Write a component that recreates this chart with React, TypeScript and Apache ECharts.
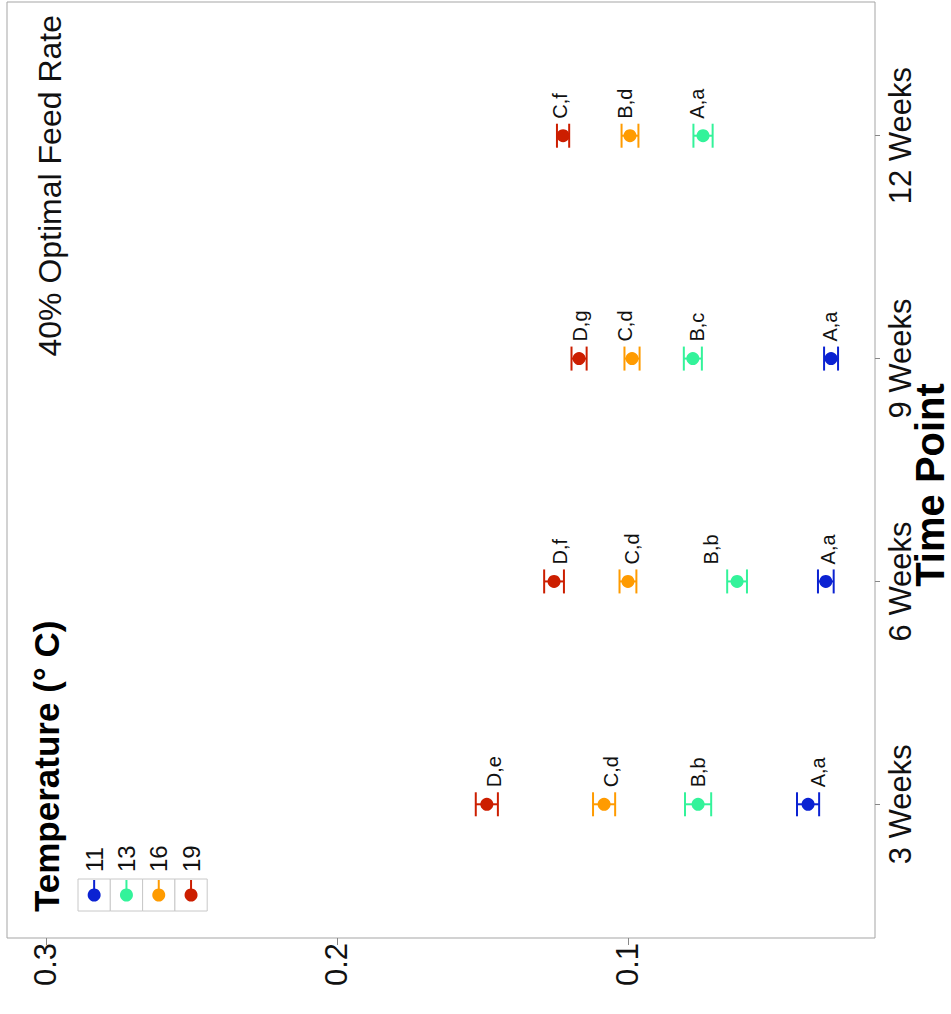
import React, { useEffect, useRef } from "react";
import * as echarts from "echarts";

const FONT = '"Liberation Sans", Arial, Helvetica, sans-serif';
const W = 951;
const H = 1014;

// Time points (category axis) and temperature groups
const weeks = ["3 Weeks", "6 Weeks", "9 Weeks", "12 Weeks"];
const temps = ["11", "13", "16", "19"];
const colors = ["#0B22D2", "#33F39A", "#FF9B00", "#CC1E00"];

// Value axis ticks
const valueTicks = [0.1, 0.2, 0.3];

// Group means per time point (null = not measured)
const mean11 = [0.0381, 0.032, 0.0302, null];
const mean13 = [0.0759, 0.0625, 0.0777, 0.0742];
const mean16 = [0.1082, 0.1, 0.0986, 0.0993];
const mean19 = [0.1485, 0.1254, 0.1168, 0.1223];

// Standard errors
const se11 = [0.0038, 0.0027, 0.0024, null];
const se13 = [0.0045, 0.0034, 0.0031, 0.0033];
const se16 = [0.0038, 0.0029, 0.0026, 0.0029];
const se19 = [0.0038, 0.0034, 0.0026, 0.0021];

// Significance letters and the value at which each is placed
const letters11 = ["A,a", "A,a", "A,a", null];
const letters13 = ["B,b", "B,b", "B,c", "A,a"];
const letters16 = ["C,d", "C,d", "C,d", "B,d"];
const letters19 = ["D,e", "D,f", "D,g", "C,f"];
const letterAt11 = [0.0347, 0.0313, 0.0306, null];
const letterAt13 = [0.0759, 0.0715, 0.0763, 0.0763];
const letterAt16 = [0.1058, 0.0986, 0.101, 0.101];
const letterAt19 = [0.146, 0.1234, 0.1165, 0.1234];

const groups = [
  { mean: mean11, se: se11, letters: letters11, at: letterAt11 },
  { mean: mean13, se: se13, letters: letters13, at: letterAt13 },
  { mean: mean16, se: se16, letters: letters16, at: letterAt16 },
  { mean: mean19, se: se19, letters: letters19, at: letterAt19 },
];

export default function App() {
  const ref = useRef<HTMLDivElement>(null);

  useEffect(() => {
    document.body.style.margin = "0";
    document.body.style.overflow = "hidden";
    const chart = echarts.init(ref.current!, null, { renderer: "svg", width: W, height: H });

    const series: any[] = [];
    groups.forEach((g, gi) => {
      const color = colors[gi];
      const rows = g.mean
        .map((m, wi) =>
          m == null ? null : { m, c: wi + 1, e: g.se[wi] as number, t: g.letters[wi] as string, at: g.at[wi] as number }
        )
        .filter(Boolean) as { m: number; c: number; e: number; t: string; at: number }[];

      // error bars
      series.push({
        type: "custom",
        name: temps[gi],
        z: 2,
        encode: { x: 0, y: 1 },
        data: rows.map((r) => [r.m, r.c, r.e]),
        renderItem: (_p: any, api: any) => {
          const v = api.value(0);
          const c = api.value(1);
          const e = api.value(2);
          const a = api.coord([v - e, c]);
          const b = api.coord([v + e, c]);
          const h = 12;
          const st = { stroke: color, lineWidth: 2 };
          return {
            type: "group",
            children: [
              { type: "line", shape: { x1: a[0], y1: a[1], x2: b[0], y2: b[1] }, style: st },
              { type: "line", shape: { x1: a[0], y1: a[1] - h, x2: a[0], y2: a[1] + h }, style: st },
              { type: "line", shape: { x1: b[0], y1: b[1] - h, x2: b[0], y2: b[1] + h }, style: st },
            ],
          };
        },
      });

      // means
      series.push({
        type: "scatter",
        name: temps[gi],
        z: 3,
        symbolSize: 13,
        itemStyle: { color, opacity: 1 },
        data: rows.map((r) => [r.m, r.c]),
      });

      // letters
      series.push({
        type: "custom",
        name: temps[gi] + "-letters",
        z: 4,
        encode: { x: 0, y: 1 },
        data: rows.map((r) => [r.at, r.c]),
        renderItem: (p: any, api: any) => {
          const pt = api.coord([api.value(0), api.value(1)]);
          return {
            type: "text",
            x: pt[0],
            y: pt[1] - 17,
            rotation: Math.PI / 2,
            style: {
              text: rows[p.dataIndex].t,
              fill: "#111",
              font: `20px ${FONT}`,
              align: "left",
              verticalAlign: "middle",
            },
          };
        },
      });
    });

    // legend keys drawn as a rotated ggplot-style legend
    const keyW = 32.3;
    const keyX0 = 78;
    const keyY = 879;
    const legendEls: any[] = [];
    temps.forEach((t, i) => {
      const x = keyX0 + i * keyW;
      legendEls.push({
        type: "rect",
        shape: { x, y: keyY, width: keyW, height: 32 },
        style: { fill: "#fff", stroke: "#C8C8C8", lineWidth: 1 },
      });
      legendEls.push({
        type: "line",
        shape: { x1: x + keyW / 2, y1: keyY + 1, x2: x + keyW / 2, y2: keyY + 16 },
        style: { stroke: colors[i], lineWidth: 2 },
      });
      legendEls.push({
        type: "circle",
        shape: { cx: x + keyW / 2, cy: keyY + 16, r: 6.5 },
        style: { fill: colors[i] },
      });
      legendEls.push({
        type: "text",
        x: x + keyW / 2,
        y: keyY - 7,
        rotation: Math.PI / 2,
        style: { text: t, fill: "#111", font: `24px ${FONT}`, align: "left", verticalAlign: "middle" },
      });
    });

    chart.setOption({
      animation: false,
      backgroundColor: "#fff",
      grid: {
        show: true,
        left: 7,
        right: 76,
        top: 2,
        bottom: 76,
        outerBoundsMode: "none",
        containLabel: false,
        borderColor: "#A5A5A5",
        borderWidth: 1,
        backgroundColor: "#fff",
      },
      xAxis: {
        type: "value",
        inverse: true,
        min: 0.0151,
        max: 0.3134,
        position: "bottom",
        splitLine: { show: false },
        axisLine: { show: false },
        axisTick: { show: true, customValues: valueTicks, length: 7, lineStyle: { color: "#888", width: 1 } },
        axisLabel: {
          customValues: valueTicks,
          rotate: 90,
          margin: 5,
          fontSize: 31,
          fontFamily: FONT,
          color: "#111",
          formatter: (v: number) => v.toFixed(1),
        },
      },
      yAxis: {
        type: "value",
        min: 0.4,
        max: 4.6,
        position: "right",
        splitLine: { show: false },
        axisLine: { show: false },
        axisTick: { show: true, customValues: [1, 2, 3, 4], length: 5, lineStyle: { color: "#888", width: 1 } },
        axisLabel: {
          customValues: [1, 2, 3, 4],
          rotate: 90,
          margin: 10,
          fontSize: 31,
          fontFamily: FONT,
          color: "#111",
          formatter: (v: number) => weeks[Math.round(v) - 1] ?? "",
        },
      },
      graphic: [
        {
          type: "text",
          x: 50,
          y: 15,
          rotation: Math.PI / 2,
          style: {
            text: "40% Optimal Feed Rate",
            fill: "#111",
            font: `32px ${FONT}`,
            align: "right",
            verticalAlign: "middle",
          },
        },
        {
          type: "text",
          x: 46,
          y: 912,
          rotation: Math.PI / 2,
          style: {
            text: "Temperature (° C)",
            fill: "#000",
            font: `bold 35px ${FONT}`,
            align: "left",
            verticalAlign: "middle",
          },
        },
        {
          // axis title for the time-point axis
          type: "text",
          x: 930,
          y: 485,
          rotation: Math.PI / 2,
          style: {
            text: "Time Point",
            fill: "#000",
            font: `bold 40px ${FONT}`,
            align: "center",
            verticalAlign: "middle",
          },
        },
        ...legendEls,
      ],
      series,
    });

    return () => chart.dispose();
  }, []);

  return (
    <div
      ref={ref}
      style={{ position: "fixed", left: 0, top: 0, width: W, height: H, background: "#fff" }}
    />
  );
}
